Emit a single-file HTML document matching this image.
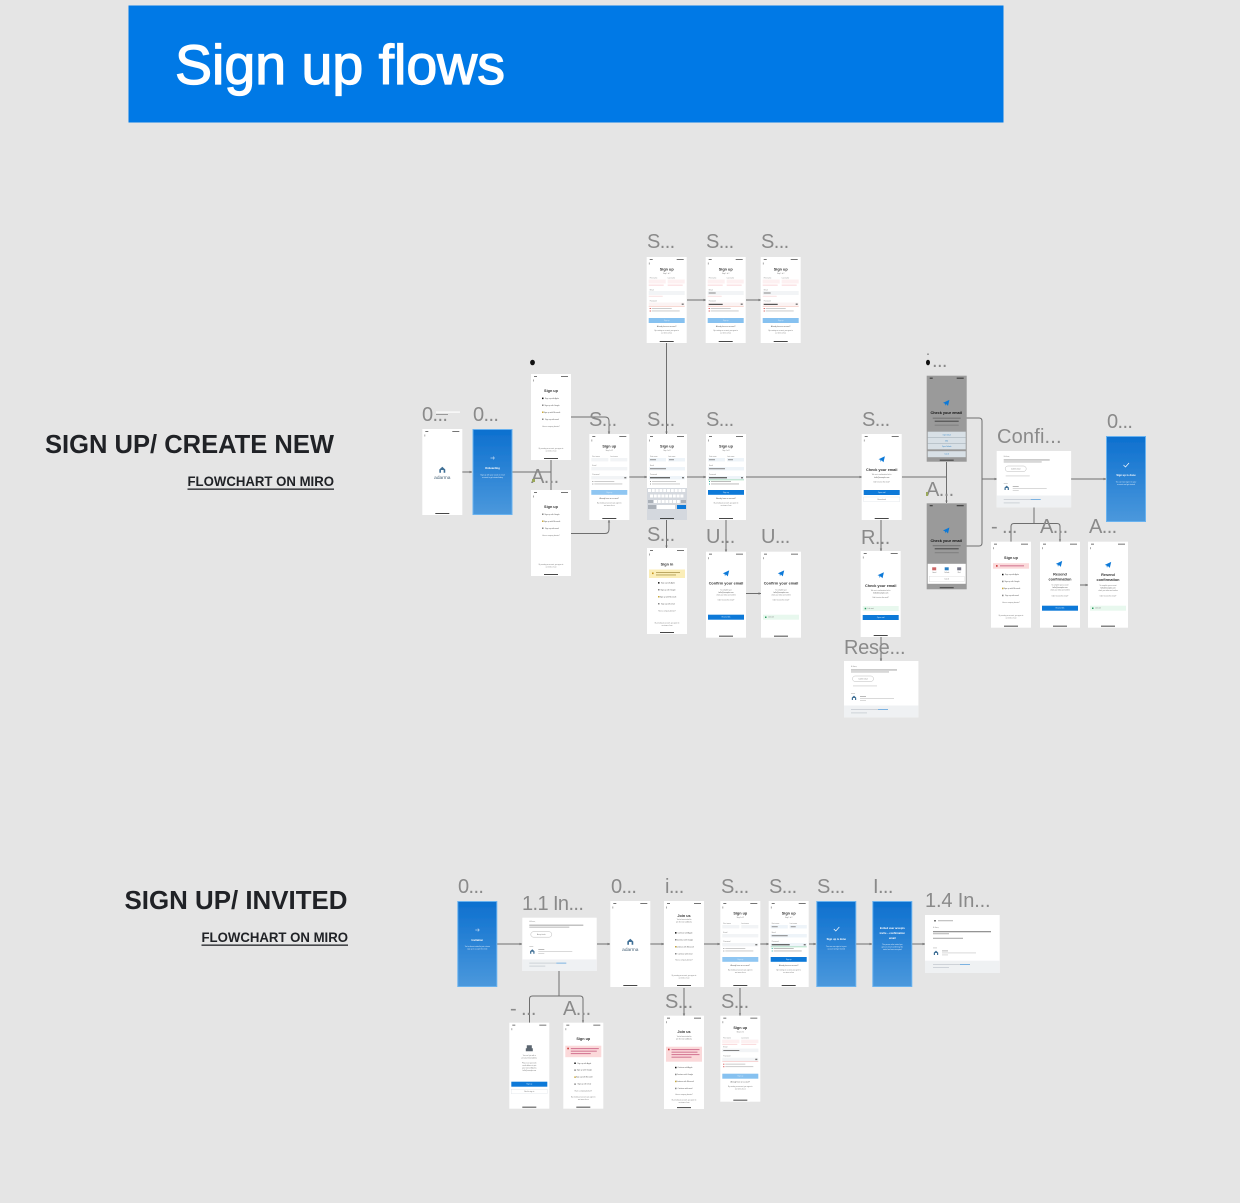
<!DOCTYPE html>
<html><head><meta charset="utf-8"><title>Sign up flows</title>
<style>
html,body{margin:0;padding:0;background:#e5e5e5;width:1240px;height:1203px;overflow:hidden}
svg{display:block;font-family:"Liberation Sans",sans-serif}
.l{fill:#8a8a8a;font-size:20px;letter-spacing:-.6px}
.h{fill:#202226;font-size:26px;font-weight:700}
.m{fill:#202226;font-size:14px;font-weight:700}
.c{fill:none;stroke:#6e6e6e;stroke-width:1}
.t{font-size:3.8px;fill:#333;text-anchor:middle;font-weight:700}
.s{font-size:1.7px;fill:#555;text-anchor:middle}
.x{font-size:1.5px;fill:#777;text-anchor:middle}
.w{font-size:1.7px;fill:#d8eafa;text-anchor:middle}
.wt{font-size:2.6px;fill:#fff;text-anchor:middle;font-weight:700}
.e{font-size:1.6px;fill:#888}
</style></head><body>
<svg width="1240" height="1203" viewBox="0 0 1240 1203" xmlns="http://www.w3.org/2000/svg">
<defs>
<filter id="soft" x="0" y="0" width="100%" height="100%" filterUnits="userSpaceOnUse" primitiveUnits="userSpaceOnUse"><feGaussianBlur stdDeviation=".35"/></filter>
<linearGradient id="bg" x1="0" y1="0" x2="0" y2="1"><stop offset="0" stop-color="#0d70cf"/><stop offset="1" stop-color="#4b98dc"/></linearGradient>
<marker id="a" markerWidth="3" markerHeight="4" refX="2.4" refY="2" orient="auto"><path d="M0 .8L2.400 2L0 3.200z" fill="#6e6e6e"/></marker>
<g id="chrome">
<rect width="40" height="86" fill="#fff"/>
<rect x="3" y="2" width="3" height=".9" fill="#666"/><rect x="30" y="2" width="7" height=".9" fill="#666"/>
<rect x="2.200" y="5.500" width=".7" height="2" fill="#888"/>
<rect x="13" y="84" width="14" height=".9" fill="#333"/>
</g>
<path id="plane" d="M-3.200 0.200L3.200-2.800L1.800 3.200L-.2 1.200L-1 3L-1.400.8z" fill="#0b79d8"/>
<g id="logo"><path d="M-2.200 2V-.4L0-2.400L2.200-.4V2H1V0H-1V2z" fill="#3f6f96"/></g>
<g id="rows3">
<rect x="11" y="6" width="1.500" height="1.500" fill="#888"/><text x="21" y="7.300" class="s">Sign up with Google</text>
<rect x="11" y="13" width="1.500" height="1.500" fill="#c9a93c"/><text x="21" y="14.300" class="s">Sign up with Microsoft</text>
<rect x="11" y="20" width="1.500" height="1.500" fill="#888"/><text x="21" y="21.300" class="s">Sign up with email</text>
<text x="20" y="28.300" class="x">Have a company domain?</text>
</g>
<g id="rows">
<rect x="11" y="-.9" width="1.500" height="1.500" fill="#111"/><text x="21" y=".4" class="s">Sign up with Apple</text>
<use href="#rows3"/>
</g>
<g id="apple"><use href="#chrome"/><text x="20" y="18" class="t">Sign up</text><use href="#rows" y="24.500"/>
<text x="20" y="75" class="x">By creating an account, you agree to</text><text x="20" y="77.500" class="x">our terms of use</text></g>
<g id="android"><use href="#chrome"/><text x="20" y="18" class="t">Sign up</text><use href="#rows3" y="17.500"/>
<text x="20" y="75" class="x">By creating an account, you agree to</text><text x="20" y="77.500" class="x">our terms of use</text></g>
<g id="fields">
<use href="#chrome"/><text x="20" y="13.500" class="t">Sign up</text><text x="20" y="16.800" class="x">Step 1 of 2</text>
<text x="3" y="23" class="e">First name</text><text x="21" y="23" class="e">Last name</text>
<rect x="2" y="24" width="17" height="3.400" fill="#f2f4f6"/><rect x="21" y="24" width="17" height="3.400" fill="#f2f4f6"/>
<text x="3" y="32" class="e">Email</text><rect x="2" y="33" width="36" height="3.400" fill="#f2f4f6"/>
<text x="3" y="41" class="e">Password</text><rect x="2" y="42" width="36" height="3.400" fill="#f2f4f6"/><rect x="35" y="43" width="2" height="1.400" fill="#777"/>
</g>
<g id="foot"><text x="20" y="64.800" class="s">Already have an account?</text><text x="20" y="69.500" class="x">By creating an account, you agree to</text><text x="20" y="72" class="x">our terms of use</text></g>
<g id="formL"><use href="#fields"/><rect x="3" y="47" width="1" height="1" fill="#999"/><rect x="5" y="47" width="20" height=".9" fill="#c6c6c6"/><rect x="3" y="49.500" width="1" height="1" fill="#999"/><rect x="5" y="49.500" width="28" height=".9" fill="#c6c6c6"/>
<rect x="2" y="56" width="36" height="4.800" fill="#8fc6f2"/><text x="20" y="59" class="w">Sign up</text><use href="#foot"/></g>
<g id="formB"><use href="#fields"/><rect x="2" y="24" width="17" height="3.400" fill="#eef4f9"/><rect x="21" y="24" width="17" height="3.400" fill="#eef4f9"/><rect x="3" y="25.300" width="6" height=".9" fill="#888"/><rect x="22" y="25.300" width="5" height=".9" fill="#888"/><rect x="2" y="33" width="36" height="3.400" fill="#eef4f9"/><rect x="3" y="34.300" width="16" height=".9" fill="#777"/><rect x="2" y="42" width="36" height="3.400" fill="#eef4f9"/><rect x="3" y="43.200" width="18" height="1.100" fill="#444"/><rect x="35" y="43" width="2" height="1.400" fill="#777"/>
<rect x="2" y="45.600" width="36" height=".6" fill="#7fcfa2"/><rect x="3" y="47" width="1" height="1" fill="#3a9"/><rect x="5" y="47" width="20" height=".9" fill="#b5b5b5"/><rect x="3" y="49.500" width="1" height="1" fill="#3a9"/><rect x="5" y="49.500" width="28" height=".9" fill="#b5b5b5"/>
<rect x="2" y="56" width="36" height="4.800" fill="#0b79d8"/><text x="20" y="59" class="w">Sign up</text><use href="#foot"/></g>
<g id="formK"><use href="#fields"/><rect x="2" y="24" width="17" height="3.400" fill="#eef4f9"/><rect x="21" y="24" width="17" height="3.400" fill="#eef4f9"/><rect x="3" y="25.300" width="6" height=".9" fill="#888"/><rect x="22" y="25.300" width="5" height=".9" fill="#888"/><rect x="2" y="33" width="36" height="3.400" fill="#eef4f9"/><rect x="3" y="34.300" width="16" height=".9" fill="#777"/><rect x="2" y="42" width="36" height="3.400" fill="#eef4f9"/><rect x="3" y="43.200" width="20" height="1.100" fill="#444"/><rect x="35" y="43" width="2" height="1.400" fill="#777"/>
<rect x="3" y="47" width="1" height="1" fill="#999"/><rect x="5" y="47" width="24" height=".9" fill="#c6c6c6"/><rect x="3" y="49.500" width="1" height="1" fill="#999"/><rect x="5" y="49.500" width="28" height=".9" fill="#c6c6c6"/>
<rect y="54" width="40" height="32" fill="#d4d8de"/>
<path d="M1 56.500h38" stroke="#fff" stroke-width="3" stroke-dasharray="3 .8"/><path d="M3 62h34" stroke="#fff" stroke-width="3" stroke-dasharray="3 .8"/><path d="M7 67.500h26" stroke="#fff" stroke-width="3" stroke-dasharray="3 .8"/><rect x="1" y="66" width="5" height="3" fill="#aab0b8"/><rect x="34" y="66" width="5" height="3" fill="#aab0b8"/>
<rect x="1" y="71" width="8" height="4" fill="#aab0b8"/><rect x="10" y="71" width="18" height="4" fill="#fff"/><rect x="30" y="71" width="9" height="4" fill="#0b79d8"/>
<rect x="13" y="84" width="14" height=".9" fill="#333"/></g>
<g id="formE0"><use href="#chrome"/><text x="20" y="13.500" class="t">Sign up</text><text x="20" y="17" class="x">Step 1 of 2</text>
<text x="3" y="21.500" class="e">First name</text><text x="21" y="21.500" class="e">Last name</text>
<rect x="2" y="22.500" width="17" height="4" fill="#fdf0f1"/><rect x="21" y="22.500" width="17" height="4" fill="#fdf0f1"/><rect x="2" y="27.500" width="15" height="1.400" fill="#fbe2e3"/><rect x="21" y="27.500" width="15" height="1.400" fill="#fbe2e3"/>
<text x="3" y="33.300" class="e">Email</text><rect x="2" y="34" width="36" height="4" fill="#f2f4f6"/><rect x="2" y="38.800" width="14" height=".8" fill="#f7d7d8"/>
<text x="3" y="44.600" class="e">Password</text><rect x="2" y="45.500" width="36" height="3.600" fill="#fbf3f3"/><rect x="35" y="46.500" width="2" height="1.400" fill="#777"/><rect x="2" y="49.300" width="36" height=".5" fill="#f2b3a8"/>
<rect x="3" y="51" width="1" height="1" fill="#c33"/><rect x="5" y="51" width="20" height=".9" fill="#c6c6c6"/><rect x="3" y="53.500" width="1" height="1" fill="#c33"/><rect x="5" y="53.500" width="28" height=".9" fill="#c6c6c6"/>
<rect x="2" y="61" width="36" height="5" fill="#86c1f0"/><text x="20" y="64" class="w">Sign up</text>
<text x="20" y="70" class="s">Already have an account?</text><text x="20" y="74" class="x">By creating an account, you agree to</text><text x="20" y="76.500" class="x">our terms of use</text></g>
<g id="formE1"><use href="#formE0"/><rect x="3" y="35.500" width="7" height="1" fill="#888"/><rect x="3" y="46.800" width="14" height="1.100" fill="#444"/></g>
<g id="formE2"><use href="#fields"/><rect x="2" y="24" width="17" height="3.400" fill="#fdf0f1"/><rect x="21" y="24" width="17" height="3.400" fill="#fdf0f1"/><rect x="2" y="28.200" width="15" height=".8" fill="#f8cdd0"/><rect x="21" y="28.200" width="15" height=".8" fill="#f8cdd0"/><rect x="2" y="33" width="36" height="3.400" fill="#f2f4f6"/><rect x="3" y="34.300" width="16" height=".9" fill="#777"/>
<rect x="2" y="45.600" width="36" height=".5" fill="#f0b0b0"/><rect x="3" y="48" width="1" height="1" fill="#c33"/><rect x="5" y="48" width="20" height=".9" fill="#c6c6c6"/><rect x="3" y="50.500" width="1" height="1" fill="#c33"/><rect x="5" y="50.500" width="28" height=".9" fill="#c6c6c6"/>
<rect x="2" y="58" width="36" height="5" fill="#86c1f0"/><text x="20" y="61" class="w">Sign up</text>
<text x="20" y="67" class="s">Already have an account?</text><text x="20" y="71.500" class="x">By creating an account, you agree to</text><text x="20" y="74" class="x">our terms of use</text></g>
<g id="confirm"><use href="#chrome"/><use href="#plane" x="20" y="21.500"/><text x="20" y="33" class="t">Confirm your email</text>
<text x="20" y="39" class="x">To complete your</text><text x="20" y="41.500" class="s">hello@example.com</text><text x="20" y="44" class="x">check your inbox and confirm</text><text x="20" y="49" class="x">Didn't receive the email?</text>
<rect x="2" y="63" width="36" height="5" fill="#0b79d8"/><text x="20" y="66" class="w">Resend link</text></g>
<g id="confirmOk"><use href="#chrome"/><use href="#plane" x="20" y="21.500"/><text x="20" y="33" class="t">Confirm your email</text>
<text x="20" y="39" class="x">To complete your</text><text x="20" y="41.500" class="s">hello@example.com</text><text x="20" y="44" class="x">check your inbox and confirm</text><text x="20" y="49" class="x">Didn't receive the email?</text>
<rect x="2" y="63" width="36" height="5" fill="#e8f8ee"/><rect x="4" y="64.800" width="1.500" height="1.500" fill="#2a9a5f"/><text x="10" y="66" class="x">Link sent</text></g>
<g id="check"><use href="#chrome"/><use href="#plane" x="20" y="25"/><text x="20" y="37" class="t">Check your email</text>
<text x="20" y="41" class="x">We sent a confirmation link to</text><text x="20" y="44" class="s">hello@example.com</text><text x="20" y="48.500" class="x">Didn't receive the email?</text>
<rect x="2" y="56" width="36" height="5" fill="#0b79d8"/><text x="20" y="59" class="w">Open mail</text><rect x="2" y="63" width="36" height="4.800" fill="#fff" stroke="#d5dbe0" stroke-width=".3"/><text x="20" y="66" class="x">Resend mail</text></g>
<g id="checkOk"><use href="#chrome"/><use href="#plane" x="20" y="24"/><text x="20" y="36" class="t">Check your email</text>
<text x="20" y="40" class="x">We sent a confirmation link to</text><text x="20" y="42.500" class="s">hello@example.com</text><text x="20" y="47" class="x">Didn't receive the email?</text>
<rect x="2" y="55" width="36" height="5" fill="#e8f8ee"/><rect x="4" y="56.800" width="1.500" height="1.500" fill="#2a9a5f"/><text x="10" y="58" class="x">Link sent</text>
<rect x="2" y="64" width="36" height="5" fill="#0b79d8"/><text x="20" y="67" class="w">Open mail</text></g>
<g id="dark1"><rect width="40" height="86" fill="#9a9a9a"/><rect x="3" y="2" width="3" height=".9" fill="#222"/><rect x="30" y="2" width="7" height=".9" fill="#222"/><use href="#plane" x="19.500" y="27"/><text x="19.500" y="38.500" class="t" style="fill:#111">Check your email</text>
<rect x="6" y="42" width="28" height=".9" fill="#6c6c6c"/><rect x="8" y="45" width="24" height="1" fill="#444"/><rect x="8" y="49" width="24" height=".9" fill="#7c7c7c"/>
<rect x="1" y="56" width="38" height="17.600" fill="#d8e0e6"/><path d="M1 62h38M1 68h38" stroke="#8e9aa2" stroke-width=".4"/><text x="20" y="59.800" class="x" style="fill:#2a7fc4">Open Gmail</text><text x="20" y="65.600" class="x" style="fill:#2a7fc4">Mail</text><text x="20" y="71.400" class="x" style="fill:#2a7fc4">Open Outlook</text>
<rect x="1" y="75.500" width="38" height="6" fill="#d8e0e6"/><text x="20" y="79" class="x" style="fill:#2a7fc4">Cancel</text><rect x="13" y="84" width="14" height=".9" fill="#333"/></g>
<g id="dark2"><rect width="40" height="86" fill="#9a9a9a"/><rect x="3" y="2" width="3" height=".9" fill="#222"/><rect x="30" y="2" width="7" height=".9" fill="#222"/><use href="#plane" x="19.500" y="27"/><text x="19.500" y="38.500" class="t" style="fill:#111">Check your email</text>
<rect x="6" y="42" width="28" height=".9" fill="#6c6c6c"/><rect x="8" y="45" width="24" height="1" fill="#444"/><rect x="8" y="49" width="24" height=".9" fill="#7c7c7c"/>
<rect x="1" y="60.500" width="38" height="20" fill="#fff"/><rect x="5.500" y="64" width="4" height="3" fill="#c66"/><rect x="18" y="64" width="4" height="3" fill="#2a7fc4"/><rect x="30.500" y="64" width="4" height="3" fill="#778"/><text x="7.500" y="69.500" class="x">Gmail</text><text x="20" y="69.500" class="x">Outlook</text><text x="32.500" y="69.500" class="x">Mail</text>
<rect x="2.500" y="73" width="35" height="5.500" fill="#fff" stroke="#ccc" stroke-width=".3"/><text x="20" y="76.300" class="x">Cancel</text><rect x="13" y="84" width="14" height=".9" fill="#333"/></g>
<g id="splash"><use href="#chrome"/><g transform="translate(20 41) scale(1.350)"><use href="#logo"/></g><text x="20" y="50" font-size="4.800" text-anchor="middle" fill="#4a6478">adarma</text></g>
<g id="blueA"><rect x=".5" y=".5" width="39" height="85" fill="url(#bg)" stroke="#69b2ef"/></g>
<path id="arrowI" d="M18 29h4M20.500 27.500l1.500 1.500-1.500 1.500" stroke="#fff" stroke-width=".5" fill="none"/>
<g id="emailBody"><text x="7" y="6" class="e">Hi there,</text><rect x="7" y="8.500" width="46" height=".9" fill="#999"/><rect x="7" y="10.500" width="38" height=".9" fill="#b0b0b0"/><rect x="8.500" y="15" width="21" height="5.500" rx="2.700" fill="#fff" stroke="#aaa" stroke-width=".4"/><text x="19" y="18.300" class="x">Confirm email</text><rect x="9" y="24.500" width="24" height=".8" fill="#d0d0d0"/><use href="#logo" x="10" y="37"/><rect x="7" y="32" width="4" height=".8" fill="#c8c8c8"/><rect x="16" y="35" width="6" height=".8" fill="#aaa"/><rect x="16" y="37" width="34" height=".8" fill="#d0d0d0"/><rect x="16" y="39" width="6" height=".8" fill="#d0d0d0"/></g>
<g id="email"><rect width="74.400" height="56.400" fill="#fff"/><rect y="44.500" width="74.400" height="11.900" fill="#eff1f3"/><use href="#emailBody"/>
<rect x="7" y="48" width="27" height=".8" fill="#c5cbd1"/><rect x="34" y="48" width="10" height=".8" fill="#5fa3dd"/><rect x="7" y="51.500" width="16" height=".8" fill="#c5cbd1"/></g>
<g id="joinRows"><rect x="11" y="-.9" width="1.500" height="1.500" fill="#111"/><text x="21" y=".4" class="s">Continue with Apple</text><rect x="11" y="6" width="1.500" height="1.500" fill="#888"/><text x="21" y="7.300" class="s">Continue with Google</text><rect x="11" y="13" width="1.500" height="1.500" fill="#c9a93c"/><text x="21" y="14.300" class="s">Continue with Microsoft</text><rect x="11" y="20" width="1.500" height="1.500" fill="#888"/><text x="21" y="21.300" class="s">Continue with email</text><text x="20" y="27.500" class="x">Have a company domain?</text></g>
</defs>
<rect width="1240" height="1203" fill="#e5e5e5"/>
<rect x="128.500" y="5.500" width="875" height="117" fill="#0079e6"/>
<text x="175" y="84" font-size="56" fill="#fff" stroke="#fff" stroke-width="1.300" textLength="330" lengthAdjust="spacingAndGlyphs">Sign up flows</text>
<text x="45" y="453" class="h" textLength="289" lengthAdjust="spacingAndGlyphs">SIGN UP/ CREATE NEW</text>
<text x="187.500" y="486" class="m" textLength="146.500" lengthAdjust="spacingAndGlyphs">FLOWCHART ON MIRO</text>
<rect x="187.500" y="488.500" width="146.500" height="1.300" fill="#202226"/>
<text x="124.500" y="909" class="h" textLength="223" lengthAdjust="spacingAndGlyphs">SIGN UP/ INVITED</text>
<text x="201.500" y="942" class="m" textLength="146.500" lengthAdjust="spacingAndGlyphs">FLOWCHART ON MIRO</text>
<rect x="201.500" y="944.500" width="146.500" height="1.300" fill="#202226"/>

<g filter="url(#soft)" >
<!-- connectors flow 1 -->
<g class="c">
<path d="M462 472H472" marker-end="url(#a)"/><path d="M512 472H551M551 460V490"/>
<path d="M571 417H605Q609 417 609 421V434" marker-end="url(#a)"/><path d="M571 533.500H605Q609 533.500 609 529V520" marker-end="url(#a)"/>
<path d="M629 477H647" marker-end="url(#a)"/><path d="M666.500 343V434" marker-end="url(#a)"/><path d="M687 477H706" marker-end="url(#a)"/><path d="M746 477H862" marker-end="url(#a)"/>
<path d="M666.500 520V548" marker-end="url(#a)"/><path d="M726 520V552" marker-end="url(#a)"/><path d="M746 593.500H761" marker-end="url(#a)"/>
<path d="M687 300H706" marker-end="url(#a)"/><path d="M746 300H761" marker-end="url(#a)"/>
<path d="M902 477H946"/><path d="M946.500 462V503" marker-end="url(#a)"/>
<path d="M881 520V551" marker-end="url(#a)"/><path d="M881 637V661" marker-end="url(#a)"/>
<path d="M966 418H979Q982 418 982 421V543Q982 546 979 546H966"/><path d="M982 479H997" marker-end="url(#a)"/>
<path d="M1071 479H1106" marker-end="url(#a)"/>
<path d="M1034 507V523.500"/><path d="M1011 541.700V526.500Q1011 523.500 1014 523.500H1057Q1060 523.500 1060 526.500V541.700" marker-end="url(#a)"/>
<path d="M1080 585H1088" marker-end="url(#a)"/>
<!-- flow 2 -->
<path d="M497 944H522" marker-end="url(#a)"/><path d="M597 944H610" marker-end="url(#a)"/><path d="M650 944H664" marker-end="url(#a)"/><path d="M704 944H720" marker-end="url(#a)"/><path d="M760 944H769" marker-end="url(#a)"/><path d="M809 944H816" marker-end="url(#a)"/><path d="M856 944H872" marker-end="url(#a)"/><path d="M912 944H925" marker-end="url(#a)"/>
<path d="M559 971V996"/><path d="M529.500 1022.700V999Q529.500 996 532.500 996H580Q583 996 583 999V1022.700" marker-end="url(#a)"/>
<path d="M684 988V1016" marker-end="url(#a)"/><path d="M740 988V1015.700" marker-end="url(#a)"/>
</g>

<!-- flow 1 screens -->
<use href="#splash" x="422.300" y="429"/>
<use href="#blueA" x="472.500" y="429"/>
<g transform="translate(472.500 429)"><use href="#arrowI"/><text x="20" y="40" class="wt">Onboarding</text><text x="20" y="46.500" class="w">Sign up with your social or email</text><text x="20" y="49" class="w">account to get started today</text></g>
<use href="#apple" x="531" y="374"/>
<use href="#android" x="531" y="490"/>
<use href="#formL" x="589.300" y="434"/>
<use href="#formK" x="647" y="434"/>
<use href="#formB" x="706" y="434"/>
<use href="#formE0" x="646.700" y="257"/>
<use href="#formE1" x="705.700" y="257"/>
<use href="#formE1" x="760.700" y="257"/>
<g transform="translate(647 548)"><use href="#chrome"/><text x="20" y="17.500" class="t">Sign in</text><rect x="2" y="21.500" width="36" height="8.500" fill="#fbeeb8"/><rect x="5" y="24.500" width="1.600" height="1.600" fill="#c7941c"/><rect x="9" y="24" width="24" height=".9" fill="#b5a15a"/><rect x="9" y="26.500" width="20" height=".9" fill="#b5a15a"/><use href="#rows" y="35"/><text x="20" y="75.500" class="x">By creating an account, you agree to</text><text x="20" y="78" class="x">our terms of use</text></g>
<use href="#confirm" x="706" y="551.700"/>
<use href="#confirmOk" x="761" y="551.700"/>
<use href="#check" x="861.700" y="434"/>
<use href="#checkOk" x="860.700" y="551"/>
<use href="#email" x="844" y="661"/>
<use href="#dark1" x="926.700" y="375.700"/>
<use href="#dark2" x="926.700" y="503.300"/>
<use href="#email" x="996.700" y="451"/>
<use href="#blueA" x="1106" y="436"/>
<g transform="translate(1106 436)"><path d="M17.500 29l2 2 3.500-4" stroke="#fff" stroke-width=".7" fill="none"/><text x="20" y="40" class="wt">Sign up is done</text><text x="20" y="46.500" class="w">You can now sign in to your</text><text x="20" y="49" class="w">account and get started</text></g>
<g transform="translate(991 541.700)"><use href="#chrome"/><text x="20" y="17.500" class="t">Sign up</text><rect x="2" y="21.500" width="36" height="5.500" fill="#fbd9da"/><rect x="5" y="23.400" width="1.600" height="1.600" fill="#c33"/><rect x="9" y="23.700" width="24" height=".9" fill="#c68"/><use href="#rows" y="33"/><text x="20" y="74.500" class="x">By creating an account, you agree to</text><text x="20" y="77" class="x">our terms of use</text></g>
<g transform="translate(1040 541.700)"><use href="#chrome"/><use href="#plane" x="19" y="22"/><text x="20" y="34" class="t">Resend</text><text x="20" y="38.800" class="t">confirmation</text><text x="20" y="44" class="x">To complete your account</text><text x="20" y="46.500" class="s">hello@example.com</text><text x="20" y="49" class="x">check your inbox and confirm</text><text x="20" y="55" class="x">Didn't receive the email?</text><rect x="2" y="64" width="36" height="5" fill="#0b79d8"/><text x="20" y="67" class="w">Resend link</text></g>
<g transform="translate(1088 541.700)"><use href="#chrome"/><use href="#plane" x="20" y="23"/><text x="20" y="34.500" class="t">Resend</text><text x="20" y="39.300" class="t">confirmation</text><text x="20" y="44.500" class="x">To complete your account</text><text x="20" y="47" class="s">hello@example.com</text><text x="20" y="49.500" class="x">check your inbox and confirm</text><text x="20" y="55" class="x">Didn't receive the email?</text><rect x="2" y="64" width="36" height="5" fill="#e8f8ee"/><rect x="4" y="65.800" width="1.500" height="1.500" fill="#2a9a5f"/><text x="10" y="67" class="x">Link sent</text></g>

<!-- flow 2 screens -->
<use href="#blueA" x="457.300" y="901"/>
<g transform="translate(457.300 901)"><use href="#arrowI"/><text x="20" y="40" class="wt">Invitation</text><text x="20" y="46" class="w">You've been invited to join a team</text><text x="20" y="48.500" class="w">sign up to accept the invite</text></g>
<g transform="translate(522.300 917.700)"><rect width="74.400" height="53.300" fill="#fff"/><rect y="41.700" width="74.400" height="11.600" fill="#eff1f3"/><text x="7" y="4.500" class="e">Hi there,</text><rect x="7" y="7" width="54" height=".9" fill="#999"/><rect x="7" y="9" width="40" height=".9" fill="#b0b0b0"/><rect x="8.500" y="14" width="21" height="5.500" rx="2.700" fill="#fff" stroke="#aaa" stroke-width=".4"/><text x="19" y="17.300" class="x">Accept invite</text><use href="#logo" x="10" y="34"/><rect x="7" y="28.500" width="4" height=".8" fill="#c8c8c8"/><rect x="16" y="31.500" width="6" height=".8" fill="#aaa"/><rect x="16" y="33.500" width="34" height=".8" fill="#d0d0d0"/><rect x="16" y="35.500" width="6" height=".8" fill="#d0d0d0"/><rect x="7" y="45" width="27" height=".8" fill="#c5cbd1"/><rect x="34" y="45" width="10" height=".8" fill="#5fa3dd"/><rect x="7" y="48" width="16" height=".8" fill="#c5cbd1"/></g>
<use href="#splash" x="610.300" y="901"/>
<g transform="translate(664 901)"><use href="#chrome"/><text x="20" y="16" class="t">Join us</text><text x="20" y="19" class="x">You've been invited to</text><text x="20" y="21.500" class="x">join the team at Adarma</text><use href="#joinRows" y="32"/><text x="20" y="75" class="x">By creating an account, you agree to</text><text x="20" y="77.500" class="x">our terms of use</text></g>
<use href="#formL" x="720.300" y="901"/>
<use href="#formB" x="768.700" y="901"/>
<use href="#blueA" x="816.300" y="901"/>
<g transform="translate(816.300 901)"><path d="M17.500 28l2 2 3.500-4" stroke="#fff" stroke-width=".7" fill="none"/><text x="20" y="39" class="wt">Sign up is done</text><text x="20" y="46" class="w">You can now sign in to your</text><text x="20" y="48.500" class="w">account and get started</text></g>
<use href="#blueA" x="872.300" y="901"/>
<g transform="translate(872.300 901)"><text x="20" y="28" class="wt">Invited user accepts</text><text x="20" y="33" class="wt">invite – confirmation</text><text x="20" y="38" class="wt">email</text><text x="20" y="44" class="w">The person who invited you</text><text x="20" y="46.500" class="w">gets an email confirming this</text><text x="20" y="49" class="w">invite has been accepted</text></g>
<g transform="translate(925 915)"><rect width="74.700" height="58" fill="#fff"/><rect y="45.700" width="74.700" height="12.300" fill="#eff1f3"/><rect x="9" y="5" width="2" height="1.500" fill="#777"/><rect x="13" y="5.300" width="15" height=".9" fill="#aaa"/><text x="8" y="13" class="e">Hi there,</text><rect x="8" y="16.300" width="58" height=".9" fill="#666"/><rect x="8" y="18.300" width="16" height=".9" fill="#aaa"/><rect x="8" y="22.800" width="30" height=".9" fill="#999"/><use href="#logo" x="11" y="38"/><rect x="8" y="32.500" width="4" height=".8" fill="#c8c8c8"/><rect x="17" y="35.500" width="6" height=".8" fill="#aaa"/><rect x="17" y="37.500" width="34" height=".8" fill="#d0d0d0"/><rect x="17" y="39.500" width="6" height=".8" fill="#d0d0d0"/><rect x="8" y="49" width="27" height=".8" fill="#c5cbd1"/><rect x="35" y="49" width="10" height=".8" fill="#5fa3dd"/><rect x="8" y="52" width="16" height=".8" fill="#c5cbd1"/></g>
<g transform="translate(509.300 1022.700)"><use href="#chrome"/><path d="M16.500 28.500h7v-3h-1v-3h-5v3h-1z" fill="#5b6670"/><text x="20" y="33.500" class="x">You can't join with a</text><text x="20" y="36" class="x">personal email address</text><text x="20" y="41" class="x">Please use your work</text><text x="20" y="43.500" class="x">email address to join</text><text x="20" y="46" class="x">your team on Adarma</text><text x="20" y="48.500" class="x">hello@example.com</text><rect x="2" y="59" width="36" height="5" fill="#0b79d8"/><text x="20" y="62" class="w">Sign up</text><rect x="2" y="66.500" width="36" height="4.500" fill="#fff" stroke="#d5dbe0" stroke-width=".3"/><text x="20" y="69.500" class="x">Back to sign in</text></g>
<g transform="translate(563.300 1022.700)"><use href="#chrome"/><text x="20" y="17.500" class="t">Sign up</text><rect x="2" y="23" width="36" height="11.500" fill="#fbd9da"/><rect x="4" y="25" width="1.600" height="1.600" fill="#c33"/><rect x="7.500" y="25.500" width="28" height=".9" fill="#c68"/><rect x="7.500" y="28" width="26" height=".9" fill="#c68"/><rect x="7.500" y="30.500" width="20" height=".9" fill="#c68"/><use href="#rows" y="40.700"/><text x="20" y="75" class="x">By creating an account, you agree to</text><text x="20" y="77.500" class="x">our terms of use</text></g>
<g transform="translate(664 1015.700)"><rect width="40" height="93.300" fill="#fff"/><rect x="3" y="2" width="3" height=".9" fill="#666"/><rect x="30" y="2" width="7" height=".9" fill="#666"/><rect x="2.200" y="5.500" width=".7" height="2" fill="#888"/><rect x="13" y="91.500" width="14" height=".9" fill="#333"/><text x="20" y="17.500" class="t">Join us</text><text x="20" y="21.500" class="x">You've been invited to</text><text x="20" y="24" class="x">join the team at Adarma</text><rect x="2" y="31" width="36" height="15" fill="#fbd9da"/><rect x="4" y="33" width="1.600" height="1.600" fill="#c33"/><rect x="7.500" y="33.500" width="28" height=".9" fill="#c68"/><rect x="7.500" y="36" width="26" height=".9" fill="#c68"/><rect x="7.500" y="38.500" width="28" height=".9" fill="#c68"/><rect x="7.500" y="41" width="20" height=".9" fill="#c68"/><use href="#joinRows" y="52"/><text x="20" y="85" class="x">By creating an account, you agree to</text><text x="20" y="87.500" class="x">our terms of use</text></g>
<use href="#formE2" x="720.300" y="1015.700"/>
</g>

<!-- labels -->
<g class="l">
<text x="422" y="421" class="l">0...</text><text x="473" y="421" class="l">0...</text>
<text x="589" y="426" class="l">S...</text><text x="647" y="426" class="l">S...</text><text x="706" y="426" class="l">S...</text>
<text x="531" y="483" class="l">A...</text>
<text x="647" y="248" class="l">S...</text><text x="706" y="248" class="l">S...</text><text x="761" y="248" class="l">S...</text>
<text x="647" y="541" class="l">S...</text><text x="706" y="543" class="l">U...</text><text x="761" y="543" class="l">U...</text>
<text x="862" y="426" class="l">S...</text><text x="861" y="544" class="l">R...</text><text x="844" y="654" class="l" textLength="61">Rese...</text>
<text x="926" y="496" class="l">A...</text><text x="997" y="443" class="l" textLength="64">Confi...</text><text x="1107" y="428" class="l">0...</text>
<text x="991" y="533" class="l">- ...</text><text x="1040" y="533" class="l">A...</text><text x="1089" y="533" class="l">A...</text>
<text x="458" y="893" class="l">0...</text><text x="522" y="910" class="l">1.1 In...</text><text x="611" y="893" class="l">0...</text><text x="665" y="893" class="l">i...</text>
<text x="721" y="893" class="l">S...</text><text x="769" y="893" class="l">S...</text><text x="817" y="893" class="l">S...</text><text x="873" y="893" class="l">I...</text><text x="925" y="907" class="l" textLength="65">1.4 In...</text>
<text x="510" y="1015" class="l">- ...</text><text x="563" y="1015" class="l">A...</text><text x="665" y="1008" class="l">S...</text><text x="721" y="1008" class="l">S...</text>
<text x="932" y="367" class="l">...</text>
</g>
<rect x="436" y="411.500" width="24" height="1.200" fill="#fff"/><rect x="436" y="414" width="12" height="1" fill="#999"/>
<ellipse cx="532.500" cy="362.500" rx="2.400" ry="2.800" fill="#111"/>
<rect x="927.300" y="353.500" width="1.400" height="1.400" fill="#777"/><ellipse cx="928" cy="362.500" rx="2" ry="2.800" fill="#111"/>
<rect x="532" y="479" width="3" height="3" fill="#9aa85a"/>
<rect x="926" y="492" width="2" height="4" fill="#9aa85a"/>
</svg>
</body></html>
